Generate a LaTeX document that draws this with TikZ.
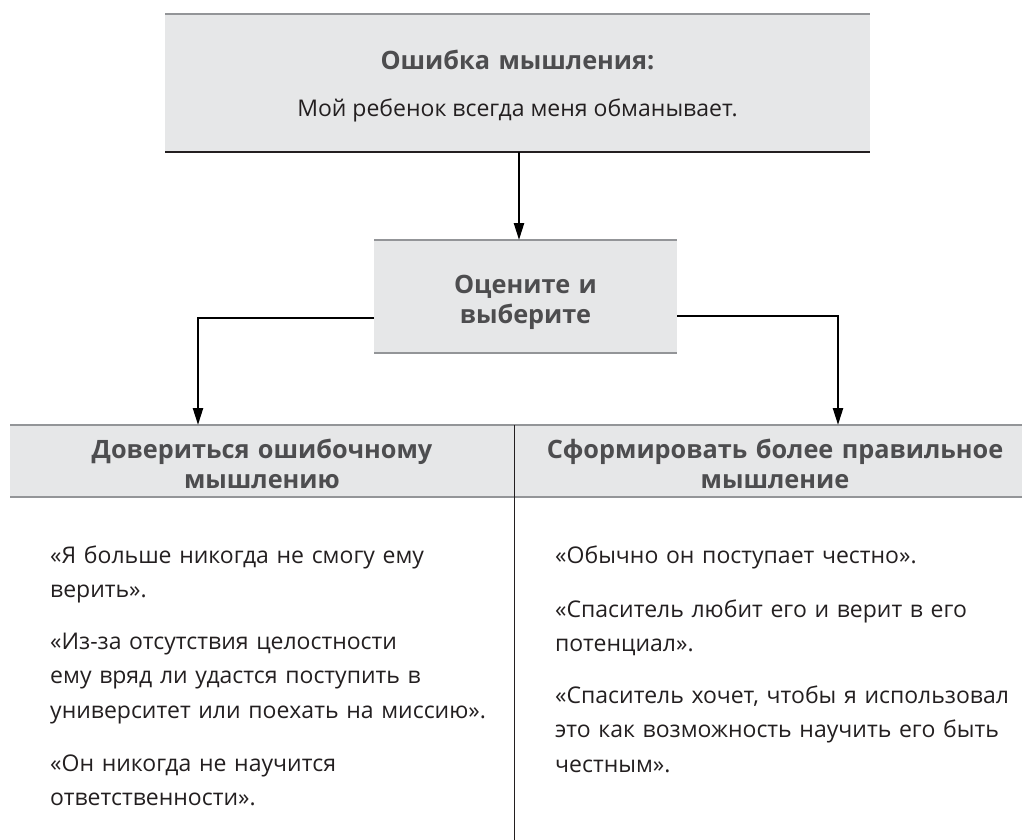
\documentclass[tikz,border=0pt]{standalone}
\usepackage{fontspec}
\setmainfont{Open Sans}
\usetikzlibrary{arrows.meta}
\definecolor{boxfill}{HTML}{E6E7E8}
\definecolor{rulegray}{HTML}{939598}
\definecolor{headtext}{HTML}{4D4D4F}
\definecolor{bodytext}{HTML}{231F20}
\tikzset{
  conn/.style={line width=2.4pt, draw=black, -{Triangle[length=17pt,width=10pt]}},
  graybox/.style={fill=boxfill, draw=none},
  grayrule/.style={draw=rulegray, line width=2.6pt},
  headlbl/.style={font=\bfseries\fontsize{25.3}{30}\selectfont, text=headtext, align=center, text width=500pt, inner sep=0pt, anchor=base},
  quote/.style={font=\fontsize{23}{34.5}\selectfont, text=bodytext, align=left, anchor=base west, inner sep=0pt, text width=490pt},
}
\begin{document}
\begin{tikzpicture}[x=1pt,y=-1pt]
\useasboundingbox (0,0) rectangle (1022,840);
% top box
\fill[graybox] (165,14) rectangle (870,152);
\draw[grayrule] (165,14) -- (870,14);
\draw[draw=bodytext, line width=2.2pt] (165,152) -- (870,152);
\node[headlbl] (err) at (517.5,70) {Ошибка мышления:};
\node[font=\fontsize{23}{30}\selectfont, text=bodytext, inner sep=0pt, anchor=base] (errtxt) at (517.5,117) {Мой ребенок всегда меня обманывает.};
\coordinate (topbot) at (519,152);
% middle box
\fill[graybox] (374,240) rectangle (677,353);
\draw[grayrule] (374,240) -- (677,240);
\draw[grayrule] (374,353) -- (677,353);
\node[headlbl] (eval) at (525.5,293) {Оцените и\\выберите};
\coordinate (midtop) at (519,240);
\coordinate (midL) at (374,318);
\coordinate (midR) at (677,316);
% header band
\fill[graybox] (10,425) rectangle (1022,497);
\draw[grayrule] (10,425) -- (1022,425);
\draw[grayrule] (10,497) -- (1022,497);
\draw[draw=bodytext, line width=0.8pt] (514,425) -- (514,840);
\node[headlbl] (hl) at (262,458) {Довериться ошибочному\\мышлению};
\node[headlbl] (hr) at (775,458) {Сформировать более правильное\\мышление};
\coordinate (hlt) at (198,425);
\coordinate (hrt) at (838,425);
% connectors
\draw[conn] (topbot) -- (midtop);
\draw[conn] (midL) -| (hlt);
\draw[conn] (midR) -| (hrt);
% left quotes
\node[quote] (q1) at (50,563) {«Я больше никогда не смогу ему\\верить».};
\node[quote] (q2) at (50,649) {«Из-за отсутствия целостности\\ему вряд ли удастся поступить в\\университет или поехать на миссию».};
\node[quote] (q3) at (50,771) {«Он никогда не научится\\ответственности».};
% right quotes
\node[quote] (r1) at (555,563) {«Обычно он поступает честно».};
\node[quote] (r2) at (555,617) {«Спаситель любит его и верит в его\\потенциал».};
\node[quote] (r3) at (555,703) {«Спаситель хочет, чтобы я использовал\\это как возможность научить его быть\\честным».};
\end{tikzpicture}
\end{document}
